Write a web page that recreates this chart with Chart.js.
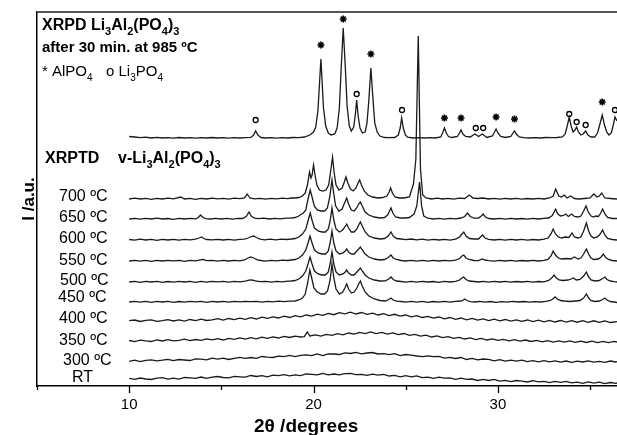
<!DOCTYPE html>
<html lang="en">
<head>
<meta charset="UTF-8">
<title>XRPD / XRPTD Li3Al2(PO4)3</title>
<script src="https://cdn.jsdelivr.net/npm/chart.js@4"></script>
<style>
  html, body { margin: 0; padding: 0; background: #fff; overflow: hidden; }
  #wrap { width: 617px; height: 435px; position: relative; }
  canvas { display: block; }
</style>
</head>
<body>
<div id="wrap"><canvas id="xrdChart"></canvas></div>
<script>
// 2theta range and tick values
const xMin = 5, xMax = 36.46;
const xTicks = [5, 10, 15, 20, 25, 30, 35];

// series names (bottom labels) and vertical offsets (a.u. = px)
const traceNames = ['985', '700 ºC', '650 ºC', '600 ºC', '550 ºC', '500 ºC', '450 ºC', '400 ºC', '350 ºC', '300 ºC', 'RT'];
const traceOffsets = [248, 187, 167, 146, 125, 104, 84, 65, 45, 25, 7];

// [2theta, intensity]
const xrpd985 = [[10,1.5],[10.3,1],[10.6,0.3],[10.9,0.8],[11.2,0],[11.5,0.6],[11.8,0],[12.1,0.4],[12.4,-0.2],[12.7,0.5],[13,0],[13.3,0.4],[13.6,-0.2],[13.9,0.3],[14.2,0],[14.5,0.5],[14.8,0],[15.1,0.3],[15.4,-0.2],[15.7,0.3],[16,0],[16.3,0.4],[16.6,0.6],[16.75,3],[16.86,7],[16.98,3],[17.15,0.5],[17.4,0],[17.7,0.4],[18,-0.1],[18.3,0.3],[18.6,0],[18.9,0.5],[19.2,0.3],[19.5,1],[19.8,3],[20.0,6],[20.12,11],[20.24,28],[20.4,79],[20.54,30],[20.66,12],[20.8,5],[20.95,3],[21.15,4],[21.28,10],[21.4,30],[21.5,70],[21.61,110],[21.72,72],[21.82,32],[21.94,12],[22.05,7],[22.18,11],[22.27,24],[22.34,38],[22.42,22],[22.52,10],[22.65,5],[22.8,6],[22.9,15],[23.0,38],[23.11,70],[23.22,40],[23.32,15],[23.45,6],[23.6,2],[23.85,0.5],[24.1,0.3],[24.4,0.5],[24.6,3],[24.7,10],[24.78,20],[24.87,10],[24.98,3],[25.1,0.8],[25.4,0],[25.7,0.3],[26,0],[26.3,0.3],[26.6,0],[26.9,1],[27.0,5],[27.1,10],[27.2,5],[27.32,1.5],[27.5,0.5],[27.8,1.5],[27.92,5],[28.0,8],[28.1,4],[28.25,1.5],[28.5,1],[28.75,4],[28.95,1.5],[29.15,4],[29.4,0.5],[29.7,2],[29.82,6],[29.9,9],[30.0,5],[30.15,1.5],[30.4,0.5],[30.7,1.5],[30.82,5],[30.9,7],[31.0,4],[31.15,1],[31.4,0.3],[31.7,0],[32,0.3],[32.3,0],[32.6,0.5],[32.9,0.3],[33.2,0.5],[33.5,1],[33.65,4],[33.76,12],[33.87,21],[33.97,12],[34.08,6],[34.18,8],[34.27,11],[34.37,6],[34.5,3],[34.62,4],[34.76,7],[34.88,3],[35.05,1],[35.25,1],[35.4,5],[35.52,13],[35.66,23],[35.78,13],[35.9,6],[36.02,3],[36.15,5],[36.27,14],[36.35,21],[36.46,17]];

const t700 = [[10,0],[10.3,0.8],[10.6,0],[10.9,0.6],[11.2,-0.4],[11.5,0.7],[11.8,0],[12.1,0.8],[12.4,0.2],[12.8,2],[13.0,0],[13.3,0.6],[13.6,-0.3],[13.9,0.7],[14.2,0],[14.5,0.8],[14.8,0.1],[15.1,0.7],[15.4,-0.2],[15.7,0.8],[16.0,0.3],[16.25,1.2],[16.4,5],[16.55,1],[16.8,0.2],[17.1,0.7],[17.4,-0.1],[17.7,0.6],[18,0.2],[18.3,0.9],[18.6,0.3],[18.8,1],[19.0,1],[19.2,1.5],[19.4,3],[19.55,6],[19.67,14],[19.78,27],[19.86,21],[19.92,24],[20.0,34],[20.08,24],[20.18,14],[20.32,9],[20.5,8],[20.68,9],[20.82,14],[20.93,28],[21.03,42],[21.12,26],[21.22,14],[21.38,9],[21.55,11],[21.67,17],[21.76,22],[21.86,16],[22.0,10],[22.15,8],[22.3,11],[22.42,16],[22.5,19],[22.6,14],[22.75,8],[22.95,4],[23.2,2],[23.5,1],[23.75,1.5],[23.98,3],[24.1,7],[24.18,11],[24.28,6],[24.42,2],[24.65,1],[24.9,1],[25.2,2],[25.42,15],[25.55,40],[25.68,163],[25.8,30],[25.92,4],[26.1,1],[26.4,0],[26.7,0.8],[27,0],[27.3,0.7],[27.6,-0.1],[27.9,0.8],[28.2,0.5],[28.45,4],[28.65,1],[28.9,0.5],[29.2,1],[29.5,0],[29.8,0.6],[30.1,-0.1],[30.4,0.7],[30.7,0],[31,0.6],[31.3,-0.2],[31.6,0.5],[31.9,0],[32.2,0.6],[32.5,0],[32.8,1],[33.0,3],[33.13,10],[33.3,3],[33.45,2],[33.6,4],[33.75,1],[33.95,3],[34.15,0.5],[34.4,0],[34.7,0.5],[35.0,1],[35.2,5],[35.38,2],[35.5,3],[35.63,6],[35.8,1],[36.1,0.5],[36.46,0]];

const t650 = [[10,0],[10.3,0.7],[10.6,-0.2],[10.9,0.6],[11.2,0],[11.5,0.8],[11.8,0],[12.1,0.5],[12.4,-0.3],[12.7,0.6],[13,0],[13.3,0.7],[13.6,0.2],[13.75,1.5],[13.87,4],[14.0,1.5],[14.15,0.3],[14.4,0],[14.7,0.7],[15.0,0],[15.3,0.6],[15.6,-0.1],[15.9,0.7],[16.15,0.5],[16.35,2.5],[16.5,7],[16.62,3],[16.8,0.8],[17.0,0.3],[17.3,0.9],[17.6,0],[17.9,0.7],[18.2,0.1],[18.5,0.9],[18.8,0.8],[19.0,1.5],[19.2,3],[19.35,5],[19.45,6],[19.58,9],[19.7,20],[19.82,29],[19.92,22],[20.04,13],[20.2,9],[20.4,8],[20.6,8],[20.75,11],[20.88,22],[21.0,39],[21.09,26],[21.2,13],[21.38,8],[21.55,10],[21.68,16],[21.8,21],[21.9,15],[22.05,9],[22.2,8],[22.34,11],[22.45,15],[22.54,17],[22.64,13],[22.8,7],[23.0,4],[23.3,2],[23.6,1],[23.85,1.5],[24.02,4],[24.12,8],[24.2,11],[24.3,6],[24.45,2],[24.7,1],[24.95,1],[25.2,1.5],[25.45,5],[25.6,13],[25.75,37],[25.86,13],[25.98,3],[26.2,0.8],[26.5,0],[26.8,0.7],[27.1,-0.1],[27.4,0.6],[27.7,0.2],[28.0,1],[28.2,2.5],[28.35,6],[28.5,2.5],[28.7,0.8],[28.95,1],[29.1,3],[29.2,5],[29.32,2],[29.5,0.5],[29.8,0],[30.1,0.6],[30.4,-0.1],[30.7,0.7],[31.0,0],[31.3,0.5],[31.6,-0.1],[31.9,0.6],[32.2,0],[32.5,0.7],[32.75,1],[32.95,3.5],[33.05,7],[33.13,10],[33.25,5],[33.4,3],[33.55,3.5],[33.68,5],[33.82,2.5],[34.0,5],[34.15,2.5],[34.35,2],[34.5,3],[34.65,8],[34.78,13],[34.9,7],[35.05,3],[35.2,2],[35.3,3],[35.45,2.5],[35.58,6],[35.68,10],[35.8,5],[35.95,1.5],[36.2,0.5],[36.46,0.5]];

const t600 = [[10,0.5],[10.3,-0.1],[10.6,0.8],[10.9,0],[11.2,0.6],[11.5,-0.3],[11.8,0.7],[12.1,0],[12.4,0.6],[12.7,-0.1],[13,0.7],[13.3,0.2],[13.6,0.8],[13.8,2],[13.92,3],[14.05,1.5],[14.2,0.5],[14.5,0.2],[14.8,0.7],[15.1,0],[15.4,0.6],[15.7,-0.1],[16.0,0.7],[16.25,0.8],[16.45,2],[16.62,3.5],[16.75,4],[16.9,2.5],[17.1,0.8],[17.35,0.2],[17.65,0.8],[17.95,0.1],[18.25,0.9],[18.55,0.5],[18.8,1],[19.0,1.5],[19.2,3],[19.4,6],[19.58,11],[19.7,19],[19.82,27],[19.93,19],[20.05,12],[20.25,9],[20.45,8],[20.65,8],[20.8,11],[20.9,19],[21.0,32],[21.1,20],[21.22,11],[21.4,8],[21.58,10],[21.7,13],[21.8,16],[21.9,12],[22.05,8],[22.2,8],[22.35,11],[22.45,15],[22.54,18],[22.64,14],[22.8,8],[23.0,4],[23.3,2],[23.6,1],[23.85,1.5],[24.05,4],[24.2,8],[24.32,4],[24.5,1.5],[24.75,1],[25.0,0.4],[25.3,1],[25.6,0.2],[25.9,0.9],[26.2,-0.1],[26.5,0.7],[26.8,0],[27.1,0.6],[27.4,-0.1],[27.7,0.9],[27.92,3],[28.05,6],[28.15,8],[28.27,4],[28.45,1.5],[28.7,1],[28.95,1],[29.08,3.5],[29.17,5],[29.3,2],[29.5,0.6],[29.8,0],[30.1,0.6],[30.4,-0.1],[30.7,0.7],[31.0,0],[31.3,0.6],[31.6,-0.1],[31.9,0.5],[32.2,0],[32.5,0.8],[32.72,2],[32.88,6],[33.0,11],[33.12,6],[33.28,3],[33.45,2],[33.65,3],[33.85,2.5],[33.95,5],[34.02,7],[34.15,3],[34.35,2],[34.5,3],[34.65,9],[34.8,17],[34.92,9],[35.05,4],[35.2,2],[35.4,3],[35.55,6],[35.68,10],[35.8,5],[35.95,1.5],[36.2,0.5],[36.46,0]];

const t550 = [[10,0],[10.3,0.7],[10.6,-0.1],[10.9,0.6],[11.2,-0.4],[11.5,0.6],[11.8,0],[12.1,0.7],[12.4,0.1],[12.7,0.6],[13,-0.3],[13.3,0.6],[13.6,0.2],[13.85,1.2],[14.0,1.5],[14.2,0.3],[14.5,0.7],[14.8,-0.1],[15.1,0.6],[15.4,0],[15.7,0.7],[16,0.2],[16.25,1],[16.45,3],[16.6,4],[16.75,3],[16.95,1.2],[17.15,0.5],[17.4,-0.1],[17.7,0.7],[18,0.2],[18.3,0.8],[18.6,0.5],[18.8,1],[19.0,1.5],[19.2,3],[19.4,6],[19.58,11],[19.7,18],[19.81,25],[19.92,18],[20.05,11],[20.25,8],[20.45,7],[20.65,7],[20.8,10],[20.9,18],[21.0,30],[21.1,18],[21.22,10],[21.4,7],[21.6,8],[21.72,10],[21.8,12],[21.9,9],[22.05,7],[22.2,7],[22.35,10],[22.45,12],[22.54,14],[22.64,11],[22.8,7],[23.0,4],[23.3,2],[23.6,1],[23.85,1.5],[24.05,3.5],[24.2,6],[24.32,3],[24.5,1.5],[24.75,0.5],[25,0],[25.3,0.7],[25.6,-0.1],[25.9,0.6],[26.2,-0.2],[26.5,0.6],[26.8,0],[27.1,0.7],[27.4,0.2],[27.7,0.8],[27.92,2.5],[28.05,5],[28.15,6],[28.27,3],[28.45,1.5],[28.7,0.5],[28.95,0.3],[29.15,2],[29.3,1],[29.5,0.4],[29.8,-0.1],[30.1,0.6],[30.4,0],[30.7,0.6],[31.0,-0.2],[31.3,0.5],[31.6,0],[31.9,0.6],[32.2,0],[32.5,0.6],[32.72,1.5],[32.88,5],[33.0,10],[33.12,6],[33.28,3],[33.45,2],[33.7,2.5],[33.95,2],[34.15,4],[34.35,2],[34.5,3],[34.65,7],[34.8,12],[34.92,7],[35.05,3],[35.2,1.5],[35.45,2],[35.6,4],[35.72,7],[35.85,3.5],[36.0,1.5],[36.2,0.5],[36.46,0]];

const t500 = [[10,0],[10.3,0.6],[10.6,-0.3],[10.9,0.7],[11.2,0],[11.5,0.6],[11.8,-0.3],[12.1,0.5],[12.4,-0.1],[12.7,0.7],[13,0],[13.3,0.6],[13.6,-0.3],[13.9,0.6],[14.2,-0.1],[14.5,0.7],[14.8,0.1],[15.1,0.6],[15.4,-0.1],[15.7,0.7],[16,0.2],[16.3,0.9],[16.5,1.8],[16.65,2.2],[16.85,1.2],[17.1,0.3],[17.4,0.7],[17.7,-0.1],[18,0.6],[18.3,0.2],[18.6,0.9],[18.8,1],[19.0,1.5],[19.2,3],[19.4,6],[19.58,11],[19.7,18],[19.81,25],[19.92,18],[20.05,11],[20.25,8],[20.45,7],[20.65,7],[20.8,10],[20.9,18],[21.0,30],[21.1,18],[21.22,10],[21.4,7],[21.6,8],[21.72,10],[21.8,12],[21.9,9],[22.05,7],[22.2,7],[22.35,10],[22.45,12],[22.54,14],[22.64,11],[22.8,7],[23.0,4],[23.3,2],[23.6,1],[23.9,1.2],[24.08,3],[24.2,5],[24.32,2.5],[24.5,1],[24.75,0.5],[25,-0.1],[25.3,0.6],[25.6,-0.1],[25.9,0.7],[26.2,0],[26.5,0.5],[26.8,-0.3],[27.1,0.6],[27.4,0],[27.7,0.7],[27.92,2],[28.05,4],[28.15,5],[28.27,2.5],[28.45,1],[28.7,0.5],[28.95,0],[29.2,0.7],[29.5,-0.1],[29.8,0.6],[30.1,0],[30.4,0.6],[30.7,-0.2],[31,0.5],[31.3,0],[31.6,0.6],[31.9,-0.1],[32.2,0.5],[32.5,0.2],[32.75,1.5],[32.92,4],[33.05,7],[33.17,4],[33.32,2],[33.5,1.5],[33.8,2],[33.98,3],[34.1,4],[34.25,2],[34.45,2.5],[34.65,6],[34.8,10],[34.92,5],[35.05,2],[35.25,1],[35.5,1.5],[35.68,3.5],[35.8,5],[35.92,2.5],[36.1,1],[36.3,0.4],[36.46,0]];

const t450 = [[10,0],[10.3,0.7],[10.6,-0.1],[10.9,0.6],[11.2,-0.4],[11.5,0.7],[11.8,0],[12.1,0.6],[12.4,-0.3],[12.7,0.5],[13,-0.1],[13.3,0.7],[13.6,0.2],[13.9,0.6],[14.2,-0.3],[14.5,0.6],[14.8,0],[15.1,0.7],[15.4,-0.1],[15.7,0.6],[16,0.2],[16.3,0.7],[16.6,0.3],[16.9,0.7],[17.2,-0.1],[17.5,0.6],[17.8,0.2],[18.1,0.8],[18.4,0.3],[18.7,0.9],[19.0,1],[19.2,2],[19.4,4],[19.55,8],[19.68,19],[19.8,32],[19.9,24],[20.02,14],[20.2,10],[20.4,8],[20.6,8],[20.76,11],[20.9,22],[21.0,38],[21.1,24],[21.22,13],[21.4,8],[21.58,10],[21.7,14],[21.8,18],[21.9,13],[22.05,9],[22.2,10],[22.35,14],[22.45,18],[22.54,21],[22.64,16],[22.8,10],[23.0,6],[23.3,3],[23.6,1.5],[23.9,1],[24.08,2.5],[24.2,4],[24.32,2],[24.5,0.8],[24.75,0.5],[25,-0.1],[25.3,0.6],[25.6,-0.1],[25.9,0.6],[26.2,-0.3],[26.5,0.5],[26.8,-0.1],[27.1,0.6],[27.4,-0.1],[27.7,0.6],[28.0,1],[28.12,2],[28.2,3],[28.32,1.5],[28.5,0.4],[28.75,0],[29,0.6],[29.3,-0.1],[29.6,0.5],[29.9,-0.3],[30.2,0.4],[30.5,-0.1],[30.8,0.6],[31.1,0],[31.4,0.5],[31.7,-0.1],[32,0.4],[32.3,0],[32.6,0.6],[32.85,1.5],[32.98,3],[33.1,5],[33.22,3],[33.4,1.5],[33.6,1],[33.9,0.5],[34.2,1],[34.45,1.5],[34.65,4],[34.8,8],[34.92,4],[35.05,1.5],[35.25,0.5],[35.5,1],[35.68,2.5],[35.8,4],[35.92,2],[36.1,0.5],[36.3,0],[36.46,-0.5]];

const t400 = [[10,0.3],[10.3,1.0],[10.6,-0.5],[10.9,0.6],[11.2,1.1],[11.5,-0.4],[11.8,0.3],[12.1,1.4],[12.4,0.0],[12.7,1.2],[13.0,-0.1],[13.3,1.5],[13.6,0.4],[13.9,1.9],[14.2,0.5],[14.5,1.1],[14.8,2.4],[15.1,0.9],[15.4,2.5],[15.7,1.3],[16.0,2.9],[16.3,1.6],[16.6,3.3],[16.9,2.0],[17.2,3.8],[17.5,2.6],[17.8,4.1],[18.1,3.0],[18.4,4.8],[18.7,3.5],[19.0,5.4],[19.3,4.1],[19.6,6.0],[19.9,4.8],[20.2,6.8],[20.5,5.6],[20.8,7.6],[21.1,6.3],[21.4,8.3],[21.7,7.1],[22.0,8.8],[22.3,7.0],[22.6,8.5],[22.9,6.7],[23.2,7.9],[23.5,6.0],[23.8,7.4],[24.1,5.4],[24.4,6.7],[24.7,4.8],[25.0,6.0],[25.3,4.1],[25.6,5.4],[25.9,3.5],[26.2,4.7],[26.5,2.8],[26.8,4.0],[27.1,2.2],[27.4,3.5],[27.7,1.7],[28.0,3.0],[28.3,1.2],[28.6,2.6],[28.9,0.8],[29.2,2.1],[29.5,0.4],[29.8,1.8],[30.1,0.1],[30.4,1.5],[30.7,-0.2],[31.0,1.2],[31.3,-0.4],[31.6,1.0],[31.9,-0.6],[32.2,0.8],[32.5,-0.8],[32.8,0.6],[33.1,-1.0],[33.4,0.5],[33.7,-1.1],[34.0,0.4],[34.3,-1.2],[34.6,0.3],[34.9,-1.3],[35.2,0.2],[35.5,-1.4],[35.8,0.1],[36.1,-1.5],[36.46,-0.7]];

const t350 = [[10,0.5],[10.3,-0.6],[10.6,0.9],[10.9,0.1],[11.2,-0.5],[11.5,1.2],[11.8,0.0],[12.1,1.3],[12.4,0.2],[12.7,0.6],[13.0,1.8],[13.3,0.3],[13.6,1.5],[13.9,0.6],[14.2,2.2],[14.5,1.1],[14.8,2.4],[15.1,1.0],[15.4,2.6],[15.7,1.7],[16.0,3.1],[16.3,1.9],[16.6,3.3],[16.9,2.2],[17.2,3.9],[17.5,2.6],[17.8,4.1],[18.1,3.0],[18.4,4.6],[18.7,3.5],[19.0,4.9],[19.3,4.0],[19.5,4.4],[19.66,9.0],[19.8,5.0],[20.1,6.1],[20.4,4.9],[20.7,6.7],[21.0,5.6],[21.3,7.4],[21.6,6.2],[21.9,8.0],[22.2,6.8],[22.5,8.6],[22.8,7.4],[23.1,9.0],[23.4,7.4],[23.7,8.6],[24.0,6.9],[24.3,8.1],[24.6,6.4],[24.9,7.5],[25.2,5.6],[25.5,6.7],[25.8,4.8],[26.1,5.9],[26.4,4.0],[26.7,5.1],[27.0,3.3],[27.3,4.4],[27.6,2.6],[27.9,3.7],[28.2,2.0],[28.5,3.2],[28.8,1.4],[29.1,2.7],[29.4,1.0],[29.7,2.2],[30.0,0.6],[30.3,1.7],[30.6,0.1],[30.9,1.3],[31.2,-0.2],[31.5,1.0],[31.8,-0.5],[32.1,0.6],[32.4,-0.9],[32.7,0.4],[33.0,-1.1],[33.3,0.2],[33.6,-1.2],[33.9,0.1],[34.2,-1.4],[34.5,-0.1],[34.8,-1.5],[35.1,-0.2],[35.4,-1.6],[35.7,-0.3],[36.0,-1.7],[36.3,-0.4],[36.46,-1.0]];

const t300 = [[10,-0.4],[10.3,0.9],[10.6,-0.7],[10.9,0.7],[11.2,1.1],[11.5,0.1],[11.8,0.8],[12.1,1.7],[12.4,0.3],[12.7,1.5],[13.0,1.0],[13.3,0.5],[13.6,2.1],[13.9,1.8],[14.2,1.1],[14.5,2.9],[14.8,1.8],[15.1,2.8],[15.4,1.5],[15.7,2.6],[16.0,3.6],[16.3,2.6],[16.6,3.5],[16.9,2.7],[17.2,4.5],[17.5,3.8],[17.8,3.5],[18.1,4.9],[18.4,4.3],[18.7,5.6],[19.0,4.3],[19.3,5.6],[19.6,6.1],[19.9,5.4],[20.2,7.1],[20.5,5.5],[20.8,7.1],[21.1,7.0],[21.4,6.5],[21.7,8.2],[22.0,7.5],[22.3,8.6],[22.6,7.1],[22.9,8.0],[23.2,8.5],[23.5,7.0],[23.8,7.4],[24.1,6.4],[24.4,7.4],[24.7,5.4],[25.0,6.5],[25.3,5.9],[25.6,5.0],[25.9,4.3],[26.2,5.2],[26.5,4.4],[26.8,4.6],[27.1,2.9],[27.4,3.7],[27.7,2.5],[28.0,3.5],[28.3,1.5],[28.6,2.6],[28.9,1.1],[29.2,2.0],[29.5,1.6],[29.8,0.2],[30.1,1.4],[30.4,-0.2],[30.7,0.9],[31.0,-0.1],[31.3,0.8],[31.6,-0.6],[31.9,0.3],[32.2,-0.8],[32.5,0.3],[32.8,-0.9],[33.1,0.1],[33.4,-1.2],[33.7,0.0],[34.0,-1.3],[34.3,-0.1],[34.6,-1.0],[34.9,0.2],[35.2,-1.2],[35.5,-0.3],[35.8,-1.4],[36.1,0.0],[36.4,-1.0],[36.46,-0.7]];

const tRT = [[10,0.6],[10.3,-0.4],[10.6,1.0],[10.9,0.0],[11.2,-0.5],[11.5,0.8],[11.8,1.4],[12.1,-0.1],[12.4,0.8],[12.7,-0.1],[13.0,1.5],[13.3,1.1],[13.6,0.7],[13.9,2.0],[14.2,0.6],[14.5,1.8],[14.8,2.5],[15.1,1.5],[15.4,1.1],[15.7,2.6],[16.0,2.2],[16.3,1.8],[16.6,3.5],[16.9,2.5],[17.2,3.3],[17.5,2.1],[17.8,3.8],[18.1,3.3],[18.4,4.3],[18.7,3.2],[19.0,4.1],[19.3,3.3],[19.6,5.0],[19.9,4.7],[20.2,4.2],[20.5,5.6],[20.8,4.2],[21.1,5.0],[21.4,4.1],[21.7,5.4],[22.0,5.6],[22.3,4.3],[22.6,4.7],[22.9,3.6],[23.2,4.8],[23.5,3.8],[23.8,4.6],[24.1,3.0],[24.4,3.6],[24.7,2.2],[25.0,3.4],[25.3,2.2],[25.6,3.2],[25.9,1.4],[26.2,1.9],[26.5,0.6],[26.8,1.9],[27.1,0.9],[27.4,1.1],[27.7,-0.3],[28.0,0.9],[28.3,-0.4],[28.6,0.0],[28.9,-1.5],[29.2,-0.3],[29.5,-1.5],[29.8,-0.4],[30.1,-2.1],[30.4,-1.3],[30.7,-2.7],[31.0,-1.5],[31.3,-2.1],[31.6,-3.0],[31.9,-1.7],[32.2,-2.9],[32.5,-2.4],[32.8,-3.7],[33.1,-2.4],[33.4,-3.3],[33.7,-2.3],[34.0,-3.9],[34.3,-3.1],[34.6,-4.4],[34.9,-2.9],[35.2,-4.1],[35.5,-3.2],[35.8,-4.6],[36.1,-3.5],[36.4,-4.3],[36.46,-4.0]];

const traces = [xrpd985, t700, t650, t600, t550, t500, t450, t400, t350, t300, tRT];

// phase markers on the 985 ºC pattern: 2theta and label height
const alpo4X = [20.4, 21.61, 23.11, 27.1, 28.0, 29.9, 30.9, 35.66];
const alpo4Y = [341, 367, 332, 268, 268, 269, 267, 284];
const li3po4X = [16.86, 22.34, 24.8, 28.8, 29.2, 33.87, 34.27, 34.76, 36.35];
const li3po4Y = [266, 292, 276, 258, 258, 272, 264, 261, 276];

// text label positions (px)
const tempLabelX = [59, 59, 59, 59, 60, 58, 59, 59, 63, 72];
const tempLabelY = [201, 222, 243, 265, 285, 302, 323, 345, 365, 382];

const FONT = '"Liberation Sans", Arial, Helvetica, sans-serif';

function drawRuns(ctx, x, y, runs, size, weight) {
  runs.forEach(([t, sub]) => {
    const fs = sub ? Math.round(size * 0.66) : size;
    ctx.font = `${weight} ${fs}px ${FONT}`;
    ctx.fillText(t, x, sub ? y + size * 0.3 : y);
    x += ctx.measureText(t).width;
  });
  return x;
}

const decorPlugin = {
  id: 'decor',
  afterDraw(chart) {
    const { ctx, chartArea: a, scales } = chart;
    const xs = scales.x;
    ctx.save();
    // top frame line
    ctx.strokeStyle = '#555';
    ctx.lineWidth = 2;
    ctx.beginPath();
    ctx.moveTo(a.left, a.top);
    ctx.lineTo(a.right, a.top);
    ctx.stroke();
    // x ticks, long at labelled values
    ctx.strokeStyle = '#000';
    ctx.lineWidth = 1.3;
    xTicks.forEach(v => {
      const px = Math.round(xs.getPixelForValue(v)) + 0.5;
      ctx.beginPath();
      ctx.moveTo(px, a.bottom);
      ctx.lineTo(px, a.bottom + (v % 10 === 0 ? 7 : 4));
      ctx.stroke();
    });

    ctx.fillStyle = '#000';
    ctx.textBaseline = 'alphabetic';
    ctx.textAlign = 'left';
    // header block
    drawRuns(ctx, 42, 30, [['XRPD Li'], ['3', 1], ['Al'], ['2', 1], ['(PO'], ['4', 1], [')'], ['3', 1]], 16, 'bold');
    drawRuns(ctx, 42, 52, [['after 30 min. at 985 ºC']], 15, 'bold');
    drawRuns(ctx, 42, 76, [['* AlPO'], ['4', 1]], 15, 'normal');
    drawRuns(ctx, 106, 76, [['o Li'], ['3', 1], ['PO'], ['4', 1]], 15, 'normal');
    drawRuns(ctx, 45, 163, [['XRPTD']], 16, 'bold');
    drawRuns(ctx, 118, 163, [['v-Li'], ['3', 1], ['Al'], ['2', 1], ['(PO'], ['4', 1], [')'], ['3', 1]], 16, 'bold');

    // temperature labels
    ctx.font = `16px ${FONT}`;
    traceNames.slice(1).forEach((n, i) => ctx.fillText(n, tempLabelX[i], tempLabelY[i]));

    // axis titles
    ctx.font = `bold 19px ${FONT}`;
    ctx.fillText('2θ /degrees', 254, 432);
    ctx.translate(34, 199);
    ctx.rotate(-Math.PI / 2);
    ctx.textAlign = 'center';
    ctx.font = `bold 17px ${FONT}`;
    ctx.fillText('I /a.u.', 0, 0);
    ctx.restore();
  }
};

const datasets = traces.map((tr, i) => ({
  label: traceNames[i],
  data: tr.map(([x, y]) => ({ x, y: y + traceOffsets[i] })),
  borderColor: '#1a1a1a',
  borderWidth: 1.3,
  pointRadius: 0,
  tension: 0,
  fill: false
}));
datasets.push({
  label: 'AlPO4',
  data: alpo4X.map((x, i) => ({ x, y: alpo4Y[i] })),
  showLine: false,
  pointStyle: 'star',
  pointRadius: 3.5,
  borderWidth: 1.6,
  borderColor: '#000',
  backgroundColor: '#000'
});
datasets.push({
  label: 'Li3PO4',
  data: li3po4X.map((x, i) => ({ x, y: li3po4Y[i] })),
  showLine: false,
  pointStyle: 'circle',
  pointRadius: 2.5,
  borderWidth: 1.3,
  borderColor: '#000',
  backgroundColor: 'rgba(0,0,0,0)'
});

new Chart(document.getElementById('xrdChart'), {
  type: 'line',
  data: { datasets },
  options: {
    responsive: true,
    maintainAspectRatio: false,
    animation: false,
    layout: { autoPadding: false, padding: { top: 12, left: 0, right: 0, bottom: 0 } },
    plugins: { legend: { display: false }, tooltip: { enabled: false } },
    scales: {
      x: {
        type: 'linear',
        min: xMin,
        max: xMax,
        afterFit(s) { s.height = 49; },
        grid: { display: false, tickLength: 7 },
        border: { display: true, color: '#000', width: 1.5 },
        ticks: {
          stepSize: 5,
          includeBounds: false,
          padding: 3,
          color: '#000',
          font: { family: FONT, size: 15 },
          maxRotation: 0,
          callback: v => (v % 10 === 0 ? String(v) : '')
        }
      },
      y: {
        min: 0,
        max: 374,
        afterFit(s) { s.width = 37; },
        grid: { display: false },
        border: { display: true, color: '#000', width: 1.5 },
        ticks: { display: false }
      }
    }
  },
  plugins: [decorPlugin]
});
</script>
</body>
</html>
